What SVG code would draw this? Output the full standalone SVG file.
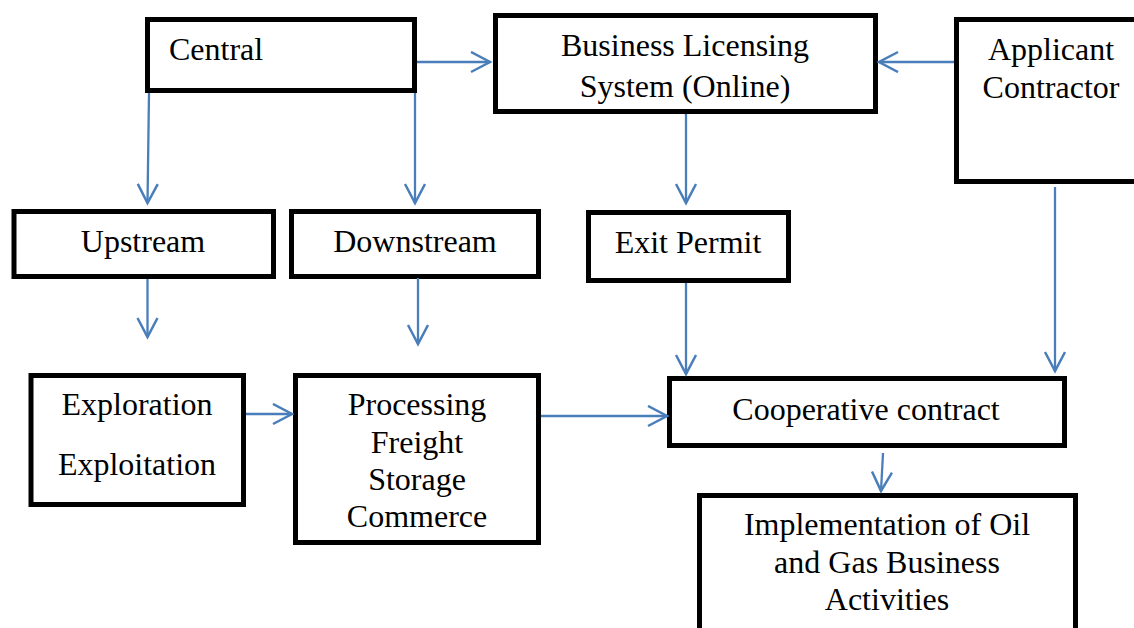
<svg xmlns="http://www.w3.org/2000/svg" width="1134" height="628" viewBox="0 0 1134 628">
<style>
.box{fill:#fff;stroke:#000;stroke-width:5}
.t{font-family:"Liberation Serif","Times New Roman",serif;font-size:32px;fill:#000}
.c{text-anchor:middle}
.con{fill:none;stroke:#4a7ebb;stroke-width:2.3;marker-end:url(#arr)}
</style>
<defs>
<marker id="arr" markerUnits="userSpaceOnUse" markerWidth="24" markerHeight="24" viewBox="0 0 24 24" refX="21" refY="11" orient="auto">
<path d="M2,1 L21,11 L2,21" fill="none" stroke="#4a7ebb" stroke-width="2.5"/>
</marker>
</defs>
<rect width="1134" height="628" fill="#fff"/>
<g id="central"><rect class="box" x="147.5" y="19.5" width="267" height="71"/><text class="t" x="169" y="60">Central</text></g>
<g id="bls"><rect class="box" x="495.5" y="15.5" width="380" height="96"/><text class="t c" x="685" y="56">Business Licensing</text><text class="t c" x="685" y="97">System (Online)</text></g>
<g id="applicant"><rect class="box" x="956.5" y="19.5" width="200" height="162"/><text class="t c" x="1051" y="60">Applicant</text><text class="t c" x="1051" y="98">Contractor</text></g>
<g id="upstream"><rect class="box" x="14" y="211.5" width="259.5" height="65"/><text class="t c" x="143" y="252">Upstream</text></g>
<g id="downstream"><rect class="box" x="291.5" y="211.5" width="247" height="65"/><text class="t c" x="415" y="252">Downstream</text></g>
<g id="exit"><rect class="box" x="588.5" y="212.5" width="200" height="68"/><text class="t c" x="688" y="253">Exit Permit</text></g>
<g id="exploration"><rect class="box" x="31" y="375.5" width="212.5" height="129"/><text class="t c" x="137" y="415">Exploration</text><text class="t c" x="137" y="475">Exploitation</text></g>
<g id="processing"><rect class="box" x="295.5" y="375.5" width="243" height="167"/><text class="t c" x="417" y="415">Processing</text><text class="t c" x="417" y="453">Freight</text><text class="t c" x="417" y="490">Storage</text><text class="t c" x="417" y="527">Commerce</text></g>
<g id="coop"><rect class="box" x="669.5" y="378.5" width="395" height="67"/><text class="t c" x="866" y="420">Cooperative contract</text></g>
<g id="impl"><rect class="box" x="699.5" y="495.5" width="376" height="200"/><text class="t c" x="887" y="535">Implementation of Oil</text><text class="t c" x="887" y="573">and Gas Business</text><text class="t c" x="887" y="610">Activities</text></g>
<g id="connectors">
<path class="con" d="M417,62 L490,62"/>
<path class="con" d="M954,62 L879,62"/>
<path class="con" d="M149,93 L147.5,203"/>
<path class="con" d="M415,93 L415,203"/>
<path class="con" d="M686,114 L686,203"/>
<path class="con" d="M147.5,279 L147.5,337"/>
<path class="con" d="M418,278 L418,344"/>
<path class="con" d="M246,414 L292,414"/>
<path class="con" d="M541,416 L667,416"/>
<path class="con" d="M686,283 L686,374"/>
<path class="con" d="M1055,187 L1055,371"/>
<path class="con" d="M883,453 L881,491"/>
</g>
</svg>
